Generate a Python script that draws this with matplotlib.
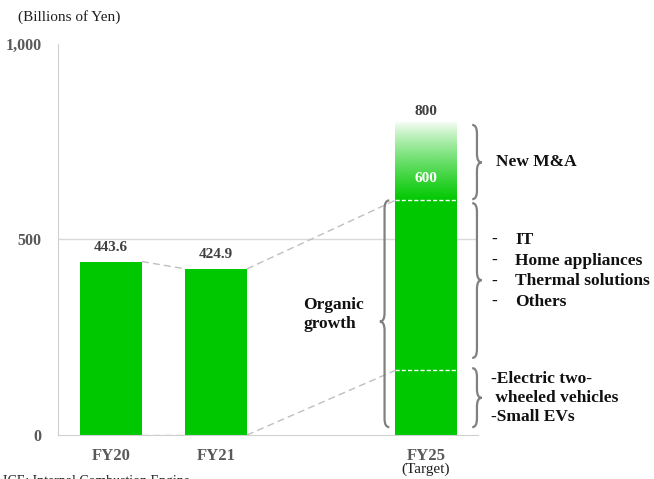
import numpy as np
import matplotlib
matplotlib.use("Agg")
import matplotlib.pyplot as plt
from matplotlib.path import Path
from matplotlib.patches import PathPatch

plt.rcParams['font.family'] = ['Liberation Serif', 'DejaVu Serif']

# data
years = ["FY20", "FY21", "FY25"]
xpos = [0, 1, 3]
sales = [443.6, 424.9, 600]
target_total = 800
ev_level = 165
labels = ["443.6", "424.9", "600"]
organic_items = ["IT", "Home appliances", "Thermal solutions", "Others"]
ev_items = ["-Electric two-", " wheeled vehicles", "-Small EVs"]

GREEN = "#00c800"
GRAY_TXT = "#595959"
W = 0.59

fig = plt.figure(figsize=(6.54, 4.79), dpi=100)
ax = fig.add_axes([58/654, 1-435/479, 420/654, 391/479])
ax.set_xlim(-0.505, 3.495)
ax.set_ylim(0, 1000)

ax.axhline(500, color="#d9d9d9", lw=1, zorder=0)
ax.bar(xpos, sales, width=W, color=GREEN, zorder=2)

# gradient part for new M&A
grad = np.ones((256, 1, 4))
grad[:, 0, :3] = matplotlib.colors.to_rgb(GREEN)
grad[:, 0, 3] = np.linspace(1, 0, 256) ** 0.8
ax.imshow(grad, extent=[3 - W/2, 3 + W/2, sales[2], target_total], origin="lower",
          aspect="auto", zorder=2, interpolation="bilinear")

# white dashed separators on FY25 bar
for yv in [sales[2], ev_level]:
    ax.plot([3 - W/2, 3 + W/2], [yv, yv], color="white", lw=1, ls=(0, (3, 1.5)), zorder=3)

# gray dashed connectors
dash = dict(color="#bfbfbf", lw=1, ls=(0, (5, 3)), zorder=1)
ax.plot([0 + W/2, 1 - W/2], [sales[0], sales[1]], **dash)
ax.plot([1 + W/2, 3 - W/2], [sales[1], sales[2]], **dash)
ax.plot([1 + W/2, 3 - W/2], [0, ev_level], **dash)
ax.plot([0 + W/2, 1 - W/2], [0, 0], **dash)

# value labels
for x, v, lab in zip(xpos[:2], sales[:2], labels[:2]):
    ax.text(x, v + 20, lab, ha="center", va="bottom", fontsize=11, fontweight="bold", color="#404040")
ax.text(3, sales[2] + 55, labels[2], ha="center", va="center", fontsize=11, fontweight="bold", color="white", zorder=4)
ax.text(3, target_total + 10, str(target_total), ha="center", va="bottom", fontsize=11, fontweight="bold", color="#404040")

# axes styling
for s in ["top", "right"]:
    ax.spines[s].set_visible(False)
for s in ["left", "bottom"]:
    ax.spines[s].set_color("#d0d0d0")
ax.set_yticks([0, 500, 1000])
ax.set_yticklabels(["0", "500", "1,000"], fontsize=11.5, fontweight="bold", color=GRAY_TXT)
ax.tick_params(axis="y", length=0, pad=12)
ax.set_xticks(xpos)
ax.set_xticklabels(years, fontsize=12, fontweight="bold", color=GRAY_TXT)
ax.tick_params(axis="x", length=0, pad=9)
ax.text(3, -0.088, "(Target)", transform=ax.get_xaxis_transform(), ha="center", va="center",
        fontsize=11, color="#202020", clip_on=False)

fig.text(18/654, 1-17/479, "(Billions of Yen)", fontsize=11, va="center", color="#202020")
fig.text(0.004, -0.006, "ICE: Internal Combustion Engine", fontsize=10, va="center", color="#202020")


def brace(x0, ytop, ybot, ymid, w, r, left=False):
    s = -1 if left else 1
    xm = x0 + s * w / 2
    xt = x0 + s * w
    verts = [(x0, ytop), (xm, ytop), (xm, ytop - r),
             (xm, ymid + r),
             (xm, ymid), (xt, ymid),
             (xm, ymid), (xm, ymid - r),
             (xm, ybot + r),
             (xm, ybot), (x0, ybot)]
    codes = [Path.MOVETO, Path.CURVE3, Path.CURVE3,
             Path.LINETO,
             Path.CURVE3, Path.CURVE3,
             Path.CURVE3, Path.CURVE3,
             Path.LINETO,
             Path.CURVE3, Path.CURVE3]
    ax.add_patch(PathPatch(Path(verts, codes), fill=False, edgecolor="#808080", lw=1.6,
                           clip_on=False, zorder=3))


bw = 0.09
brace(3.44, 793, 603, 697, bw, 22)
brace(3.44, 593, 197, 396, bw, 22)
brace(3.44, 171, 20, 95, bw, 22)
brace(2.65, 600, 20, 290, bw, 22, left=True)

txt = dict(fontsize=12.5, fontweight="bold", color="#111111", clip_on=False)
ax.text(3.67, 697, "New M&A", va="center", **txt)
for i, item in enumerate(organic_items):
    yv = 499 - i * 53
    ax.text(3.62, yv, "-", va="center", **txt)
    ax.text(3.85, yv, item, va="center", **txt)
for i, item in enumerate(ev_items):
    ax.text(3.62, 143 - i * 48.5, item, va="center", **txt)
ax.text(1.83, 307, "Organic\ngrowth", va="center", ha="left", linespacing=1.25, **txt)

fig.savefig("out.png", dpi=100)
